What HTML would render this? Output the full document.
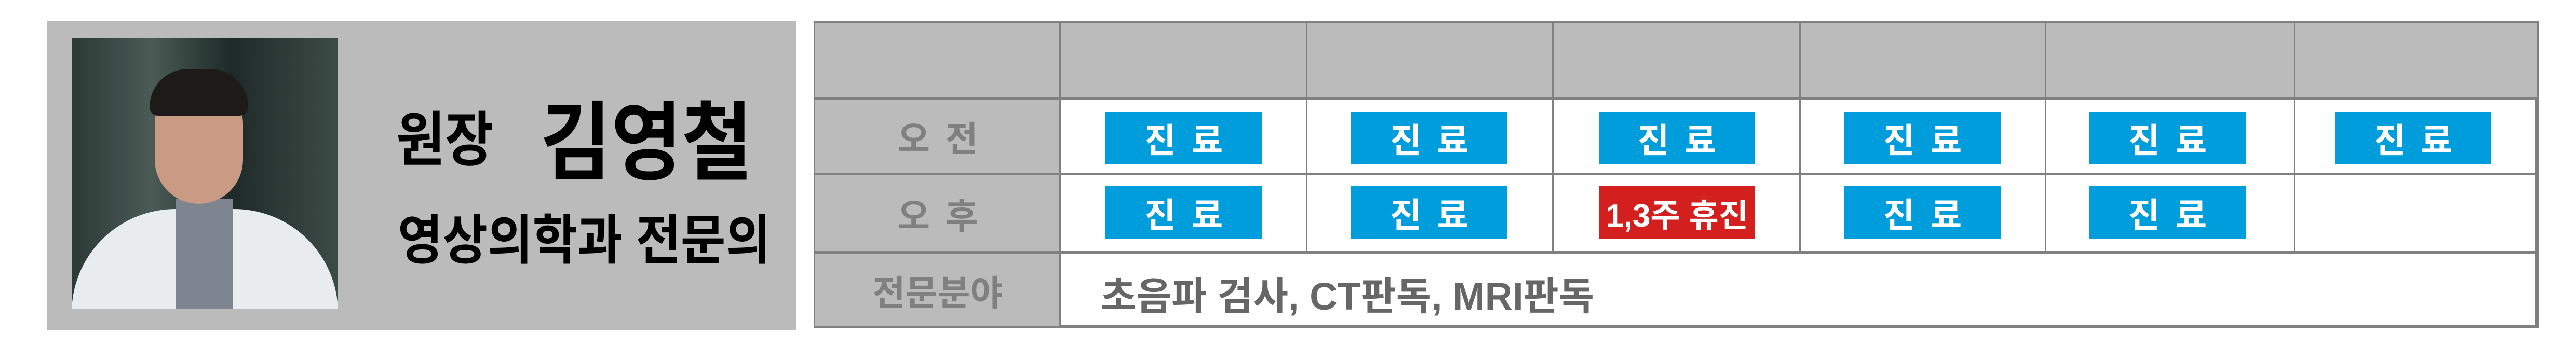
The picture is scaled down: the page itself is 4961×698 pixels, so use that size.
<!DOCTYPE html>
<html><head><meta charset="utf-8"><style>
body{margin:0;width:4961px;height:698px;background:#fff;position:relative;overflow:hidden;font-family:"Liberation Sans","Noto Sans CJK KR",sans-serif;}
div{position:absolute;box-sizing:border-box;}
.t{display:flex;align-items:center;justify-content:center;white-space:nowrap;}
.btn{width:301px;height:102px;background:#009ddc;color:#fff;font-size:66px;font-weight:bold;letter-spacing:30px;padding-left:30px;}
.red{background:#d41f1f;letter-spacing:0;padding-left:0;font-size:62px;}
.lab{color:#808080;font-weight:bold;font-size:68px;}
</style></head><body>
<div style="left:90px;top:41px;width:1443px;height:595px;background:#bbbbbb"></div>
<div style="left:138px;top:73px;width:513px;height:523px;background:linear-gradient(90deg,#2c3a36 0%,#4a5a55 30%,#1e2a27 60%,#3d4b47 100%);overflow:hidden">
  <div style="left:0;top:330px;width:513px;height:200px;background:#e8ecee;border-radius:200px 200px 0 0"></div>
  <div style="left:200px;top:310px;width:110px;height:220px;background:#7e8590"></div>
  <div style="left:160px;top:90px;width:170px;height:230px;background:#c99b85;border-radius:80px 80px 90px 90px"></div>
  <div style="left:150px;top:60px;width:190px;height:90px;background:#1d1a19;border-radius:90px 90px 20px 20px"></div>
</div>
<div class="t" style="left:763px;top:175px;height:170px;color:#000;font-weight:bold;transform:scaleY(1.12);transform-origin:left center"><span style="font-size:102px">원장</span><span style="font-size:148px;margin-left:90px">김영철</span></div>
<div class="t" style="left:766px;top:405px;height:100px;color:#000;font-weight:bold;font-size:94px;transform:scaleY(1.1);transform-origin:left center">영상의학과 전문의</div>

<div style="left:1567px;top:41px;width:3322px;height:591px;border:6px solid #808080;background:#fff"></div>
<div style="left:1570px;top:44px;width:3316px;height:145px;background:#bbbbbb"></div>
<div style="left:1570px;top:44px;width:472px;height:585px;background:#bbbbbb"></div>
<div style="left:1567px;top:187px;width:3322px;height:5px;background:#808080"></div>
<div style="left:1567px;top:333px;width:3322px;height:5px;background:#808080"></div>
<div style="left:1567px;top:484px;width:3322px;height:5px;background:#808080"></div>
<div style="left:2040px;top:41px;width:4px;height:591px;background:#808080"></div>
<div style="left:2515px;top:41px;width:3px;height:447px;background:#808080"></div>
<div style="left:2989px;top:41px;width:3px;height:447px;background:#808080"></div>
<div style="left:3465px;top:41px;width:3px;height:447px;background:#808080"></div>
<div style="left:3938px;top:41px;width:3px;height:447px;background:#808080"></div>
<div style="left:4417px;top:41px;width:3px;height:447px;background:#808080"></div>

<div class="t lab" style="left:1570px;top:192px;width:472px;height:141px;letter-spacing:30px;padding-left:30px">오전</div>
<div class="t lab" style="left:1570px;top:338px;width:472px;height:146px;letter-spacing:30px;padding-left:30px">오후</div>
<div class="t lab" style="left:1570px;top:489px;width:472px;height:140px">전문분야</div>
<div class="t" style="left:2120px;top:520px;height:90px;color:#666;font-weight:bold;font-size:74px">초음파 검사, CT판독, MRI판독</div>

<div class="t btn" style="left:2129px;top:215px">진료</div>
<div class="t btn" style="left:2602px;top:215px">진료</div>
<div class="t btn" style="left:3079px;top:215px">진료</div>
<div class="t btn" style="left:3552px;top:215px">진료</div>
<div class="t btn" style="left:4024px;top:215px">진료</div>
<div class="t btn" style="left:4497px;top:215px">진료</div>

<div class="t btn" style="left:2129px;top:359px">진료</div>
<div class="t btn" style="left:2602px;top:359px">진료</div>
<div class="t btn red" style="left:3079px;top:359px">1,3주 휴진</div>
<div class="t btn" style="left:3552px;top:359px">진료</div>
<div class="t btn" style="left:4024px;top:359px">진료</div>
</body></html>
